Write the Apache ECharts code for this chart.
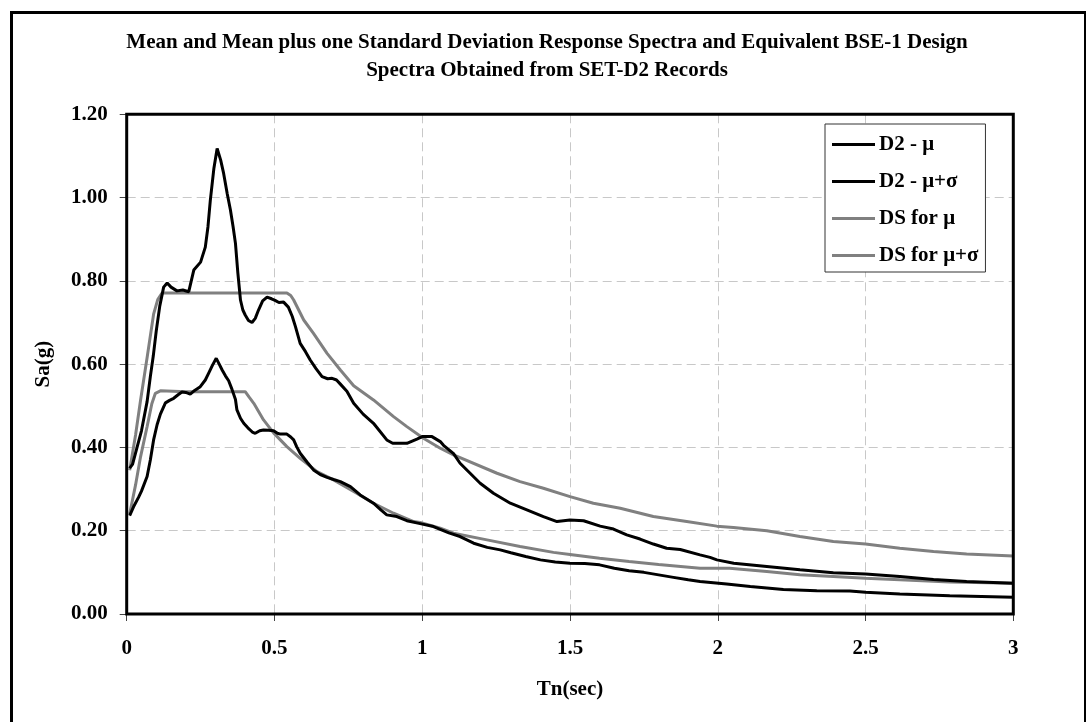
<!DOCTYPE html>
<html>
<head>
<meta charset="utf-8">
<script src="https://cdn.jsdelivr.net/npm/echarts@6/dist/echarts.min.js"></script>
<style>
html,body{margin:0;padding:0;background:#fff;}
#chart{width:1086px;height:722px;}
</style>
</head>
<body>
<div id="chart"></div>
<script>
// ---- data (period T in sec, Sa in g) ----
const seriesNames = ['D2 - \u03bc', 'D2 - \u03bc+\u03c3', 'DS for \u03bc', 'DS for \u03bc+\u03c3'];
const xTicks = [0, 0.5, 1, 1.5, 2, 2.5, 3];
const yTicks = [0, 0.2, 0.4, 0.6, 0.8, 1.0, 1.2];

const d2Mean = [[0.01,0.236],[0.025,0.26],[0.04,0.28],[0.05,0.295],[0.069,0.33],[0.08,0.37],[0.091,0.418],[0.103,0.455],[0.114,0.48],[0.131,0.507],[0.145,0.513],[0.159,0.518],[0.175,0.527],[0.187,0.533],[0.2,0.532],[0.215,0.528],[0.23,0.537],[0.249,0.546],[0.266,0.562],[0.277,0.578],[0.29,0.597],[0.303,0.614],[0.313,0.60],[0.323,0.586],[0.334,0.572],[0.345,0.56],[0.356,0.54],[0.368,0.515],[0.373,0.49],[0.385,0.47],[0.396,0.458],[0.41,0.447],[0.425,0.437],[0.435,0.434],[0.45,0.44],[0.463,0.442],[0.48,0.441],[0.497,0.44],[0.51,0.434],[0.52,0.432],[0.542,0.432],[0.555,0.425],[0.565,0.418],[0.575,0.402],[0.587,0.386],[0.61,0.365],[0.632,0.346],[0.655,0.335],[0.678,0.328],[0.7,0.323],[0.723,0.318],[0.757,0.306],[0.79,0.286],[0.835,0.266],[0.86,0.25],[0.88,0.238],[0.914,0.234],[0.948,0.224],[0.993,0.217],[1.038,0.21],[1.061,0.203],[1.09,0.195],[1.128,0.186],[1.174,0.17],[1.22,0.16],[1.264,0.154],[1.3,0.147],[1.35,0.138],[1.4,0.13],[1.45,0.125],[1.5,0.122],[1.55,0.121],[1.6,0.118],[1.65,0.11],[1.7,0.104],[1.75,0.1],[1.8,0.094],[1.85,0.088],[1.9,0.082],[1.94,0.078],[1.985,0.075],[2.03,0.072],[2.11,0.066],[2.222,0.059],[2.335,0.056],[2.447,0.055],[2.5,0.052],[2.616,0.048],[2.785,0.044],[3.0,0.040]];

const d2MeanSd = [[0.01,0.35],[0.02,0.36],[0.035,0.40],[0.05,0.44],[0.069,0.51],[0.08,0.57],[0.09,0.62],[0.1,0.68],[0.112,0.74],[0.125,0.785],[0.137,0.795],[0.15,0.785],[0.17,0.776],[0.175,0.78],[0.19,0.778],[0.21,0.774],[0.227,0.826],[0.25,0.845],[0.266,0.881],[0.275,0.93],[0.283,0.994],[0.295,1.07],[0.306,1.118],[0.318,1.09],[0.328,1.058],[0.34,1.01],[0.351,0.97],[0.36,0.93],[0.368,0.89],[0.376,0.82],[0.385,0.754],[0.393,0.73],[0.401,0.718],[0.412,0.705],[0.424,0.70],[0.435,0.71],[0.446,0.73],[0.46,0.752],[0.475,0.761],[0.49,0.757],[0.502,0.753],[0.515,0.748],[0.531,0.749],[0.547,0.737],[0.56,0.715],[0.571,0.69],[0.587,0.65],[0.605,0.63],[0.621,0.61],[0.64,0.59],[0.661,0.57],[0.68,0.565],[0.695,0.566],[0.71,0.562],[0.723,0.552],[0.745,0.535],[0.768,0.506],[0.8,0.48],[0.835,0.458],[0.88,0.418],[0.9,0.41],[0.948,0.41],[0.982,0.42],[1.0,0.426],[1.033,0.426],[1.061,0.414],[1.072,0.405],[1.106,0.385],[1.128,0.362],[1.162,0.338],[1.196,0.314],[1.241,0.29],[1.298,0.266],[1.354,0.25],[1.41,0.234],[1.456,0.222],[1.5,0.226],[1.546,0.224],[1.602,0.211],[1.647,0.204],[1.692,0.19],[1.737,0.18],[1.782,0.168],[1.827,0.158],[1.873,0.155],[1.94,0.142],[1.974,0.136],[1.997,0.13],[2.054,0.122],[2.166,0.114],[2.278,0.106],[2.391,0.099],[2.5,0.096],[2.616,0.09],[2.73,0.083],[2.842,0.078],[3.0,0.074]];

const dsMean = [[0.01,0.24],[0.03,0.31],[0.047,0.378],[0.069,0.45],[0.085,0.505],[0.097,0.53],[0.114,0.536],[0.2,0.534],[0.3,0.534],[0.401,0.534],[0.415,0.52],[0.43,0.506],[0.463,0.466],[0.497,0.435],[0.542,0.402],[0.587,0.374],[0.644,0.342],[0.70,0.322],[0.768,0.294],[0.835,0.266],[0.903,0.242],[0.971,0.222],[0.993,0.22],[1.061,0.206],[1.106,0.194],[1.219,0.178],[1.331,0.162],[1.444,0.148],[1.5,0.143],[1.6,0.134],[1.7,0.126],[1.8,0.119],[1.94,0.11],[2.04,0.11],[2.166,0.102],[2.278,0.094],[2.391,0.09],[2.5,0.086],[2.616,0.082],[2.785,0.077],[3.0,0.074]];

const dsMeanSd = [[0.01,0.345],[0.03,0.43],[0.047,0.514],[0.07,0.62],[0.091,0.72],[0.105,0.755],[0.12,0.771],[0.3,0.771],[0.542,0.771],[0.555,0.765],[0.565,0.754],[0.599,0.706],[0.632,0.674],[0.678,0.626],[0.723,0.586],[0.768,0.548],[0.835,0.514],[0.903,0.474],[0.948,0.45],[1.004,0.422],[1.061,0.398],[1.106,0.382],[1.253,0.338],[1.331,0.318],[1.41,0.302],[1.5,0.282],[1.579,0.266],[1.67,0.254],[1.782,0.234],[1.895,0.222],[1.997,0.211],[2.053,0.208],[2.166,0.2],[2.278,0.186],[2.391,0.174],[2.5,0.168],[2.616,0.158],[2.73,0.15],[2.842,0.144],[3.0,0.139]];

const seriesData = [d2Mean, d2MeanSd, dsMean, dsMeanSd];
const seriesColors = ['#000000', '#000000', '#808080', '#808080'];

// ---- chart ----
const FONT = "'Liberation Serif', 'Times New Roman', serif";
const chart = echarts.init(document.getElementById('chart'), null, {renderer: 'canvas'});

const option = {
  backgroundColor: '#ffffff',
  animation: false,
  title: {
    text: 'Mean and Mean plus one Standard Deviation Response Spectra and Equivalent BSE-1 Design\nSpectra Obtained from SET-D2 Records',
    left: 547,
    top: 29,
    textAlign: 'center',
    padding: 0,
    textStyle: {fontFamily: FONT, fontWeight: 'bold', fontSize: 21, lineHeight: 28, color: '#000'}
  },
  legend: {
    orient: 'vertical',
    left: 825,
    top: 124,
    padding: [10, 7, 6, 7],
    itemGap: 16,
    itemWidth: 43,
    itemHeight: 3,
    icon: 'rect',
    backgroundColor: '#fff',
    borderColor: '#333',
    borderWidth: 1,
    data: seriesNames,
    textStyle: {fontFamily: FONT, fontWeight: 'bold', fontSize: 21, lineHeight: 20, color: '#000', padding: [0,0,0,-1]}
  },
  grid: {
    left: 126.7, top: 114.3, right: 72.7, bottom: 108,
    show: true, borderColor: '#000', borderWidth: 3, backgroundColor: 'transparent', z: 3
  },
  xAxis: {
    type: 'value',
    min: xTicks[0], max: xTicks[xTicks.length - 1], interval: 0.5,
    name: 'Tn(sec)',
    nameLocation: 'middle',
    nameGap: 65,
    nameTextStyle: {fontFamily: FONT, fontWeight: 'bold', fontSize: 21, color: '#000'},
    axisLine: {show: false},
    axisTick: {show: true, length: 7, lineStyle: {color: '#444', width: 1}},
    axisLabel: {
      margin: 24, fontFamily: FONT, fontWeight: 'bold', fontSize: 21, color: '#000',
      formatter: v => String(v)
    },
    splitLine: {show: true, showMinLine: false, showMaxLine: false, lineStyle: {color: '#c8c8c8', width: 1, type: [9, 5]}}
  },
  yAxis: {
    type: 'value',
    min: yTicks[0], max: yTicks[yTicks.length - 1], interval: 0.2,
    name: 'Sa(g)',
    nameLocation: 'middle',
    nameGap: 73,
    nameTextStyle: {fontFamily: FONT, fontWeight: 'bold', fontSize: 21, color: '#000'},
    axisLine: {show: false},
    axisTick: {show: true, length: 7, lineStyle: {color: '#444', width: 1}},
    axisLabel: {
      margin: 19, fontFamily: FONT, fontWeight: 'bold', fontSize: 21, color: '#000',
      formatter: v => v.toFixed(2)
    },
    splitLine: {show: true, showMinLine: false, showMaxLine: false, lineStyle: {color: '#c8c8c8', width: 1, type: [9, 5]}}
  },
  graphic: [{
    type: 'rect',
    left: 9, top: 10,
    shape: {width: 1074, height: 730},
    style: {fill: 'none', stroke: '#000', lineWidth: 3},
    z: 100, silent: true
  }],
  series: seriesNames.map((name, i) => ({
    name: name,
    type: 'line',
    data: seriesData[i],
    showSymbol: false,
    symbol: 'none',
    smooth: false,
    color: seriesColors[i],
    lineStyle: {color: seriesColors[i], width: 3},
    z: i < 2 ? 3 : 2
  }))
};
chart.setOption(option);
</script>
</body>
</html>
